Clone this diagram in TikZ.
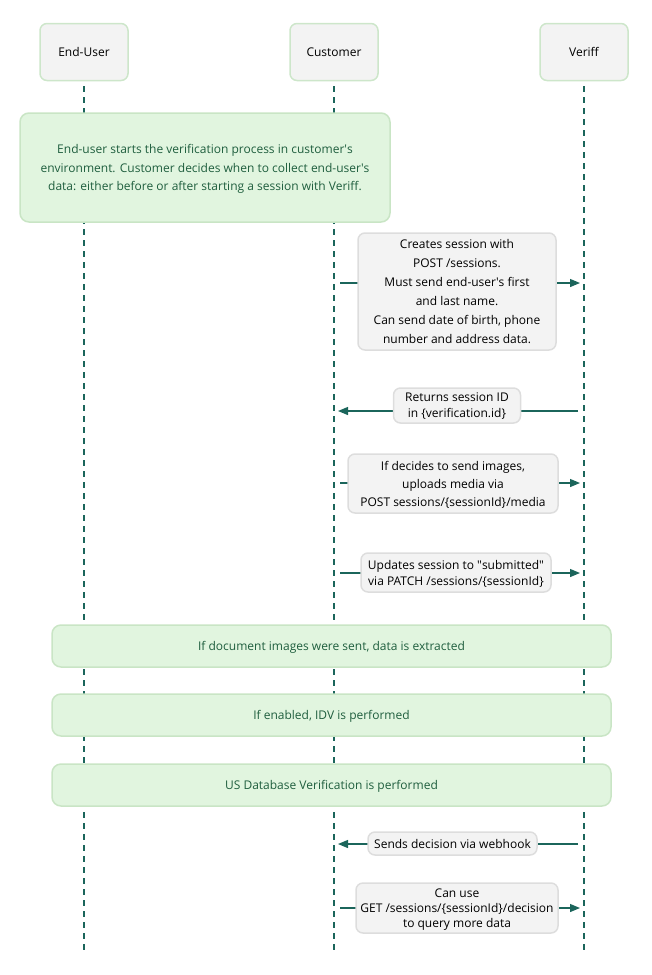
\documentclass[tikz,border=0pt]{standalone}
\usepackage{fontspec}
\setmainfont{Open Sans}
\usetikzlibrary{arrows.meta,positioning,shapes}
\usepackage{xcolor}
\definecolor{lineteal}{HTML}{1B655B}
\definecolor{boxgray}{HTML}{F3F3F3}
\definecolor{actoredge}{HTML}{CDE6CA}
\definecolor{msgedge}{HTML}{DDDDDD}
\definecolor{notefill}{HTML}{E1F5DF}
\definecolor{noteedge}{HTML}{C9E5C5}
\definecolor{notetext}{HTML}{1F5E3E}
\newcommand{\apos}{\textquotesingle}
\newcommand{\dq}{\textquotedbl}

\begin{document}
\begin{tikzpicture} [x=1pt,y=-1pt,node distance=250pt,line width=1.2pt,
    font=\fontsize{12}{16}\selectfont,
    actor/.style={draw=actoredge,fill=boxgray,rounded corners=7pt,line width=1.5pt,
      minimum width=88pt,minimum height=57pt},
    life/.style={draw=lineteal,line width=2pt,dash pattern=on 6pt off 5pt},
    note/.style={draw=noteedge,fill=notefill,rounded corners=9pt,line width=1.5pt,
      text=notetext,align=center,text depth=0pt},
    msgbox/.style={draw=msgedge,fill=boxgray,rounded corners=7pt,line width=1.5pt,
      align=center,inner sep=0pt,text depth=0pt},
    msg/.style={draw=lineteal,-{Triangle[length=10pt,width=8pt]},
      shorten <=6pt,shorten >=4pt}]

  \useasboundingbox (0,0) rectangle (651,975);

  % participants
  \node[actor] (eu) at (84,52) {End-User};
  \node[actor] (cu) [right of=eu] {Customer};
  \node[actor] (ve) [right of=cu] {Veriff};

  \coordinate (eubot) at (eu |- 0,954);
  \coordinate (cubot) at (cu |- 0,954);
  \coordinate (vebot) at (ve |- 0,954);
  \draw[life] ([yshift=-5pt]eu.south) -- (eubot);
  \draw[life] ([yshift=-5pt]cu.south) -- (cubot);
  \draw[life] ([yshift=-5pt]ve.south) -- (vebot);

  % notes over the lifelines
  \node[note,minimum width=370pt,minimum height=109pt,
    font=\fontsize{12}{18.5}\selectfont] (start) at (205,167.5)
    {End-user starts the verification process in customer\apos s\\
     environment. Customer decides when to collect end-user\apos s\\
     data: either before or after starting a session with Veriff.};
  \node[note,minimum width=559pt,minimum height=42pt] (extract) at (331.5,646)
    {If document images were sent, data is extracted};
  \node[note,minimum width=559pt,minimum height=42pt] (idv) at (331.5,715)
    {If enabled, IDV is performed};
  \node[note,minimum width=559pt,minimum height=42pt] (usdb) at (331.5,785)
    {US Database Verification is performed};

  % messages
  \foreach \n/\y in {1/283,2/411,3/483,4/573,5/844,6/908} {
    \coordinate (c\n) at (cu |- 0,\y);
    \coordinate (v\n) at (ve |- 0,\y);
  }
  \draw[msg] (c1) -- (v1);
  \draw[msg] (v2) -- (c2);
  \draw[msg] (c3) -- (v3);
  \draw[msg] (c4) -- (v4);
  \draw[msg] (v5) -- (c5);
  \draw[msg] (c6) -- (v6);

  \node[msgbox,minimum width=198pt,minimum height=117pt,
    font=\fontsize{12}{19}\selectfont] (create) at (457,291.5)
    {Creates session with\\ POST /sessions.\\ Must send end-user\apos s first\\
     and last name.\\ Can send date of birth, phone\\ number and address data.};
  \node[msgbox,minimum width=127pt,minimum height=35pt] (ret) at (457,405.5)
    {Returns session ID\\ in \{verification.id\}};
  \node[msgbox,minimum width=210pt,minimum height=59pt,
    font=\fontsize{12}{18}\selectfont] (media) at (453,483.5)
    {If decides to send images,\\ uploads media via\\
     POST sessions/\{sessionId\}/media};
  \node[msgbox,minimum width=190pt,minimum height=39pt] (patch) at (456,572.5)
    {Updates session to \dq submitted\dq\\ via PATCH /sessions/\{sessionId\}};
  \node[msgbox,minimum width=169pt,minimum height=23pt] (hook) at (452.5,843.5)
    {Sends decision via webhook};
  \node[msgbox,minimum width=202pt,minimum height=50pt,
    font=\fontsize{12}{15}\selectfont] (query) at (457,908)
    {Can use\\ GET /sessions/\{sessionId\}/decision\\ to query more data};

\end{tikzpicture}
\end{document}
